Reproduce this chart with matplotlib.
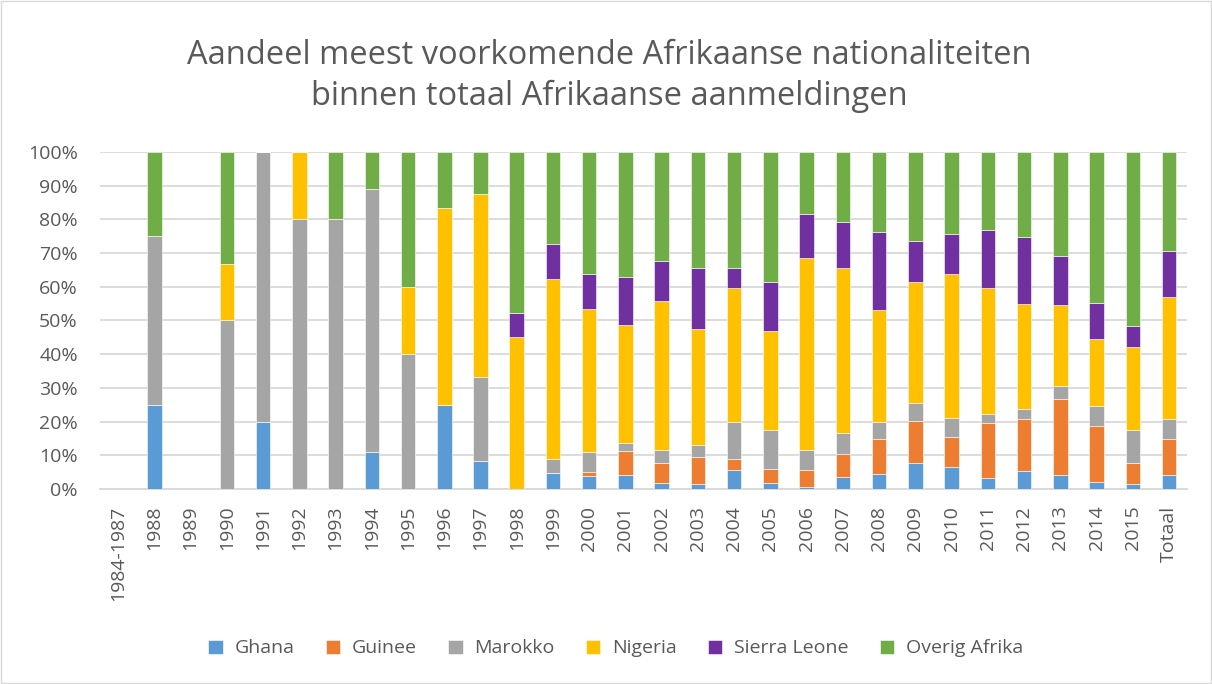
import matplotlib.pyplot as plt
import numpy as np

plt.rcParams['font.family'] = ['Open Sans', 'DejaVu Sans']

categories = ['1984-1987', '1988', '1989', '1990', '1991', '1992', '1993', '1994',
              '1995', '1996', '1997', '1998', '1999', '2000', '2001', '2002', '2003',
              '2004', '2005', '2006', '2007', '2008', '2009', '2010', '2011', '2012',
              '2013', '2014', '2015', 'Totaal']

# share per nationality (%)
ghana = [0, 25, 0, 0, 20, 0, 0, 11.1, 0, 25, 8.3, 0, 4.9, 4.0, 4.3, 1.7, 1.5,
         5.8, 1.9, 0.5, 3.5, 4.4, 7.8, 6.6, 3.4, 5.3, 4.2, 2.2, 1.4, 4.2]
guinee = [0, 0, 0, 0, 0, 0, 0, 0, 0, 0, 0, 0, 0, 1.0, 7.1, 5.9, 8.1,
          3.0, 4.1, 5.3, 7.0, 10.5, 12.4, 8.7, 16.1, 15.6, 22.5, 16.6, 6.4, 10.5]
marokko = [0, 50, 0, 50, 80, 80, 80, 77.8, 40, 0, 25, 0, 3.9, 6.1, 2.4, 3.9, 3.4,
           11.2, 11.5, 5.9, 6.2, 5.1, 5.4, 5.9, 2.8, 2.7, 4.0, 5.8, 9.8, 6.2]
nigeria = [0, 0, 0, 16.7, 0, 20, 0, 0, 20, 58.3, 54.2, 45.2, 53.5, 42.4, 35.0, 44.3, 34.5,
           39.5, 29.3, 56.7, 49.0, 33.2, 35.7, 42.7, 37.3, 31.4, 23.8, 20.0, 24.6, 36.2]
sierra_leone = [0, 0, 0, 0, 0, 0, 0, 0, 0, 0, 0, 7.1, 10.3, 10.3, 14.0, 11.8, 18.0,
                6.1, 14.5, 13.2, 13.5, 22.9, 12.4, 11.7, 17.2, 19.7, 14.6, 10.5, 6.1, 13.6]
overig = [0, 25, 0, 33.3, 0, 0, 20, 11.1, 40, 16.7, 12.5, 47.6, 27.4, 36.2, 37.2, 32.4, 34.5,
          34.4, 38.7, 18.4, 20.8, 23.9, 26.3, 24.4, 23.2, 25.3, 30.9, 44.9, 51.7, 29.3]

series = [('Ghana', ghana, '#5B9BD5'),
          ('Guinee', guinee, '#ED7D31'),
          ('Marokko', marokko, '#A5A5A5'),
          ('Nigeria', nigeria, '#FFC000'),
          ('Sierra Leone', sierra_leone, '#7030A0'),
          ('Overig Afrika', overig, '#70AD47')]

txt = '#595959'
fig = plt.figure(figsize=(12.12, 6.84), dpi=100)
ax = fig.add_axes([0.0825, 0.285, 0.897, 0.493])

x = np.arange(len(categories))
bottom = np.zeros(len(categories))
for name, vals, col in series:
    vals = np.array(vals, dtype=float)
    ax.bar(x, vals, 0.4, bottom=bottom, color=col, label=name,
           edgecolor='white', linewidth=0.4, zorder=3)
    bottom += vals

ax.set_xlim(-0.5, len(categories) - 0.5)
ax.set_ylim(0, 100)
ax.set_yticks(range(0, 101, 10))
ax.set_yticklabels([f'{v}%' for v in range(0, 101, 10)], fontsize=14, color=txt)
ax.set_xticks(x)
ax.set_xticklabels(categories, rotation=90, fontsize=14, color=txt)
ax.tick_params(axis='y', length=0, pad=16)
ax.tick_params(axis='x', length=0, pad=12)
ax.grid(axis='y', color='#D9D9D9', linewidth=1.3, zorder=0)
for s in ['top', 'right', 'left']:
    ax.spines[s].set_visible(False)
ax.spines['bottom'].set_color('#D9D9D9')
ax.spines['bottom'].set_linewidth(1.3)

fig.text(0.503, 0.889, 'Aandeel meest voorkomende Afrikaanse nationaliteiten\nbinnen totaal Afrikaanse aanmeldingen',
         ha='center', va='center', fontsize=23.5, color=txt, linespacing=1.32)

fig.legend(loc='center', bbox_to_anchor=(0.508, 0.052), ncol=6, frameon=False,
           fontsize=14, labelcolor=txt, handlelength=0.75, handleheight=0.75,
           handletextpad=0.6, columnspacing=1.6)

fig.patches.append(plt.Rectangle((0.001, 0.001), 0.998, 0.998, transform=fig.transFigure,
                                 fill=False, edgecolor='#D9D9D9', linewidth=1))

fig.savefig('out.png', dpi=100)
